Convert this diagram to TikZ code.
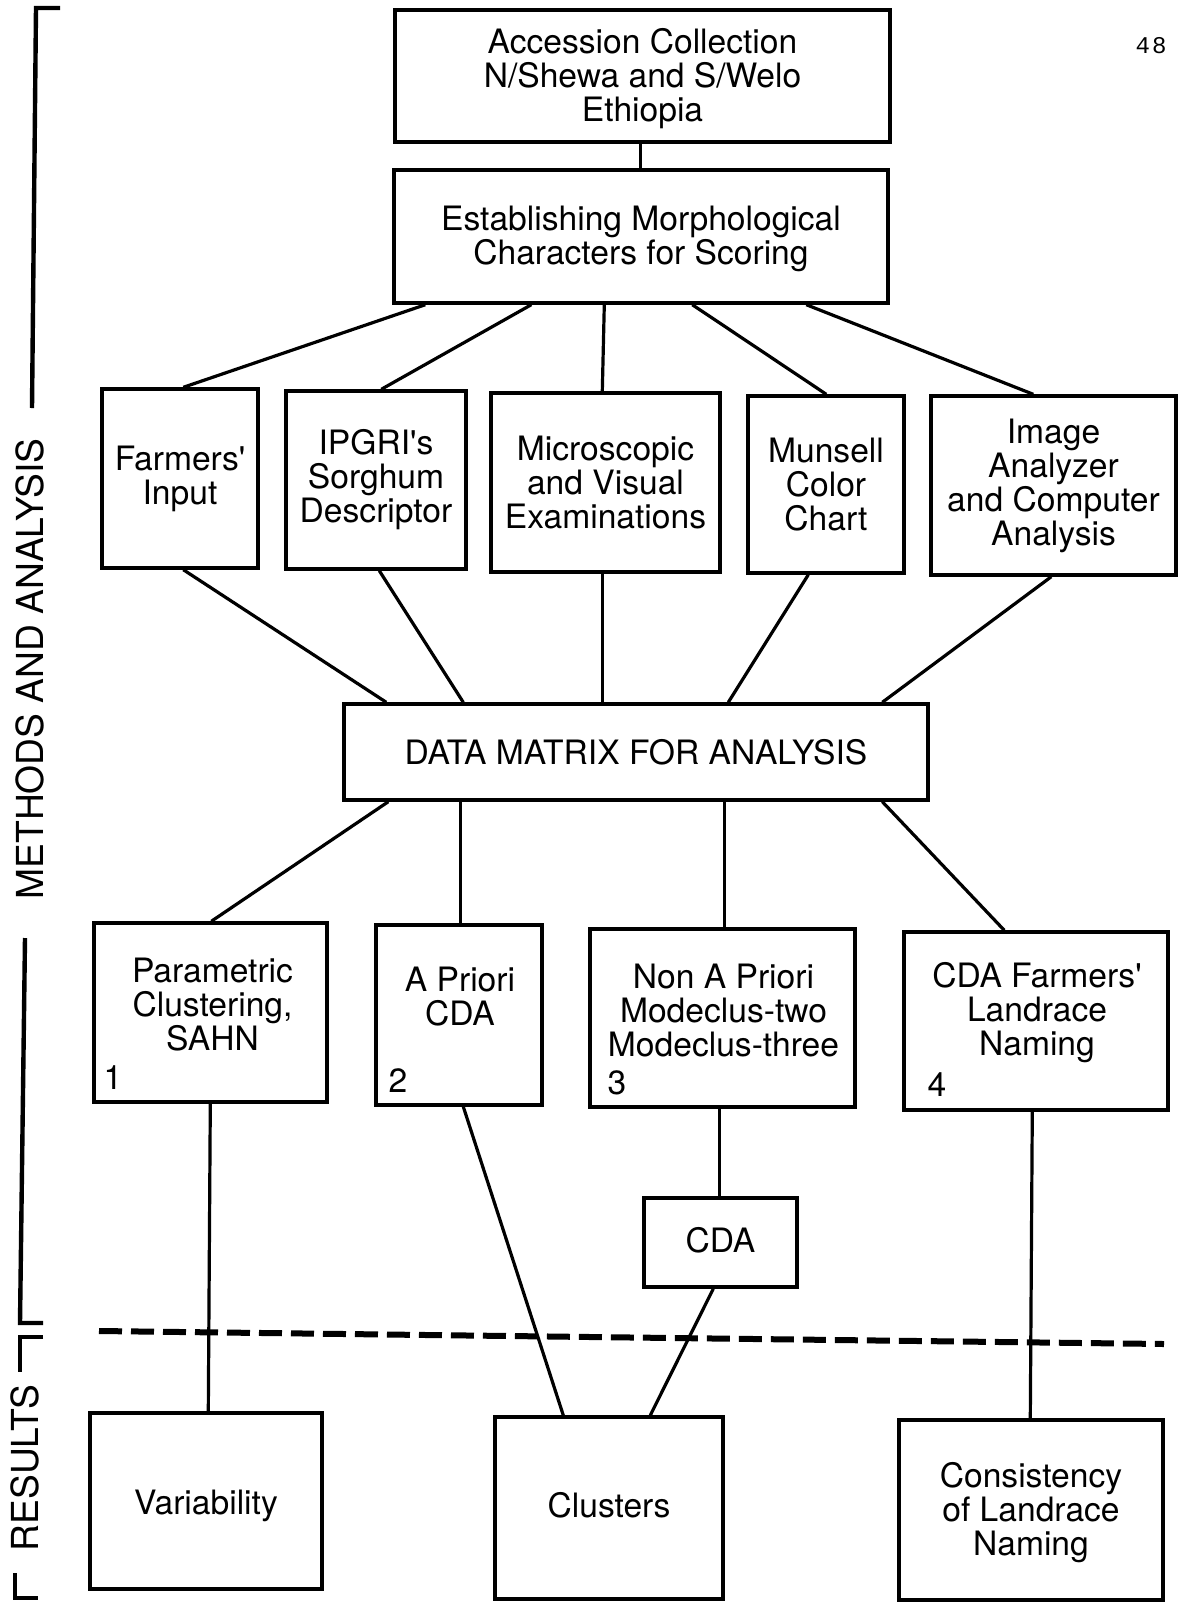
\documentclass[tikz,border=0pt]{standalone}
\usepackage{fontspec}
\setmainfont{TeX Gyre Heros}
\setmonofont{Liberation Mono}
\usetikzlibrary{fit,calc}
\tikzset{
  box/.style={draw, line width=1.7pt, inner sep=0pt},
  txt/.style={inner sep=0pt, align=center, font=\fontsize{16.8}{17}\selectfont},
  conn/.style={line width=1.6pt},
  brk/.style={line width=2.2pt},
  sidelabel/.style={inner sep=0pt, font=\fontsize{18.6}{18}\selectfont},
  dashline/.style={line width=3pt, dash pattern=on 11.5pt off 4.5pt}
}
\begin{document}
\begin{tikzpicture}[x=0.5pt,y=-0.5pt]
\useasboundingbox (0,0) rectangle (1180,1602);

% boxes
\node[box, fit={(395,10) (890,142)}] (acc) {};
\node[box, fit={(394,170) (888,303)}] (est) {};
\node[box, fit={(102,389) (258,568)}] (farm) {};
\node[box, fit={(286,391) (466,569)}] (ipgri) {};
\node[box, fit={(491,393) (720,572)}] (micro) {};
\node[box, fit={(748,396) (904,573)}] (muns) {};
\node[box, fit={(931,396) (1176,575)}] (image) {};
\node[box, fit={(344,704) (928,800)}] (data) {};
\node[box, fit={(94,923) (327,1102)}] (param) {};
\node[box, fit={(376,925) (542,1105)}] (apri) {};
\node[box, fit={(590,929) (855,1107)}] (nonap) {};
\node[box, fit={(904,932) (1168,1110)}] (cdaf) {};
\node[box, fit={(644,1198) (797,1287)}] (cda) {};
\node[box, fit={(90,1413) (322,1589)}] (var) {};
\node[box, fit={(495,1417) (723,1599)}] (clus) {};
\node[box, fit={(899,1420) (1163,1600)}] (cons) {};

% box texts
\node[txt] (acct) at ($(acc.center)+(0,3)$) {Accession Collection\\N/Shewa and S/Welo\\Ethiopia};
\node[txt] (estt) at ($(est.center)+(0,2)$) {Establishing Morphological\\Characters for Scoring};
\node[txt] (farmt) at (farm.center) {Farmers\textquotesingle\\Input};
\node[txt] (ipgrit) at (ipgri.center) {IPGRI\textquotesingle s\\Sorghum\\Descriptor};
\node[txt] (microt) at (micro.center) {Microscopic\\and Visual\\Examinations};
\node[txt] (munst) at (muns.center) {Munsell\\Color\\Chart};
\node[txt] (imaget) at (image.center) {Image\\Analyzer\\and Computer\\Analysis};
\node[txt] (datat) at (data.center) {DATA MATRIX FOR ANALYSIS};
\node[txt] (cdat) at ($(cda.center)+(0,-2)$) {CDA};
\node[txt] (vart) at ($(var.center)+(0,5)$) {Variability};
\node[txt] (clust) at ($(clus.center)+(0,-3)$) {Clusters};
\node[txt] (const) at ($(cons.center)+(0,3)$) {Consistency\\of Landrace\\Naming};

% texts in row 3
\node[txt] (paramt) at ($(param.center)+(2,-8)$) {Parametric\\Clustering,\\SAHN};
\node[txt] (aprit) at ($(apri.center)+(1,-18)$) {A Priori\\CDA};
\node[txt] (nonapt) at ($(nonap.center)+(1,-8)$) {Non A Priori\\Modeclus-two\\Modeclus-three};
\node[txt] (cdaft) at ($(cdaf.center)+(1,-8)$) {CDA Farmers\textquotesingle\\Landrace\\Naming};
\node[txt] (n1) at (113,1078) {1};
\node[txt] (n2) at (398,1081) {2};
\node[txt] (n3) at (617,1083) {3};
\node[txt] (n4) at (937,1085) {4};

\node[inner sep=0pt, font=\ttfamily\fontsize{12}{12}\selectfont] (pagenum) at (1151,46) {4\kern1pt 8};

% connectors
\draw[conn] ($(acc.south west)+(247,0)$) -- ($(est.north west)+(248,0)$);
\draw[conn] ($(est.south west)+(33,0)$) -- ($(farm.north west)+(83,0)$);
\draw[conn] ($(est.south west)+(139,0)$) -- ($(ipgri.north west)+(97,0)$);
\draw[conn] ($(est.south west)+(212,0)$) -- ($(micro.north west)+(113,0)$);
\draw[conn] ($(est.south west)+(300,0)$) -- ($(muns.north west)+(80,0)$);
\draw[conn] ($(est.south west)+(414,0)$) -- ($(image.north west)+(104,0)$);

\draw[conn] ($(farm.south west)+(83,0)$) -- ($(data.north west)+(44,0)$);
\draw[conn] ($(ipgri.south west)+(95,0)$) -- ($(data.north west)+(121,0)$);
\draw[conn] ($(micro.south west)+(113,0)$) -- ($(data.north west)+(260,0)$);
\draw[conn] ($(muns.south west)+(62,0)$) -- ($(data.north west)+(386,0)$);
\draw[conn] ($(image.south west)+(122,0)$) -- ($(data.north west)+(540,0)$);

\draw[conn] ($(data.south west)+(46,0)$) -- ($(param.north west)+(119,0)$);
\draw[conn] ($(data.south west)+(118,0)$) -- ($(apri.north west)+(86,0)$);
\draw[conn] ($(data.south west)+(382,0)$) -- ($(nonap.north west)+(136,0)$);
\draw[conn] ($(data.south west)+(540,0)$) -- ($(cdaf.north west)+(102,0)$);

\draw[conn] ($(param.south west)+(118,0)$) -- ($(var.north west)+(120,0)$);
\draw[conn] ($(apri.south west)+(89,0)$) -- ($(clus.north west)+(70,0)$);
\draw[conn] ($(nonap.south west)+(131,0)$) -- ($(cda.north west)+(77,0)$);
\draw[conn] ($(cda.south west)+(71,0)$) -- ($(clus.north west)+(157,0)$);
\draw[conn] ($(cdaf.south west)+(130,0)$) -- ($(cons.north west)+(133,0)$);

% dashed separator
\coordinate (dashL) at (99,1331);
\coordinate (dashR) at (1164,1344);
\draw[dashline] (dashL) -- (dashR);

% left brackets and labels
\draw[brk] (60,8) -- (36,8) -- (32,408);
\draw[brk] (25,938) -- (20,1323) -- (43,1323);
\draw[brk] (43,1337) -- (20,1337) -- (20,1372);
\draw[brk] (15,1573) -- (15,1598) -- (38,1598);
\node[sidelabel, rotate=90] (methods) at (30,669) {METHODS AND ANALYSIS};
\node[sidelabel, rotate=90] (results) at (25,1468) {RESULTS};
\end{tikzpicture}
\end{document}
